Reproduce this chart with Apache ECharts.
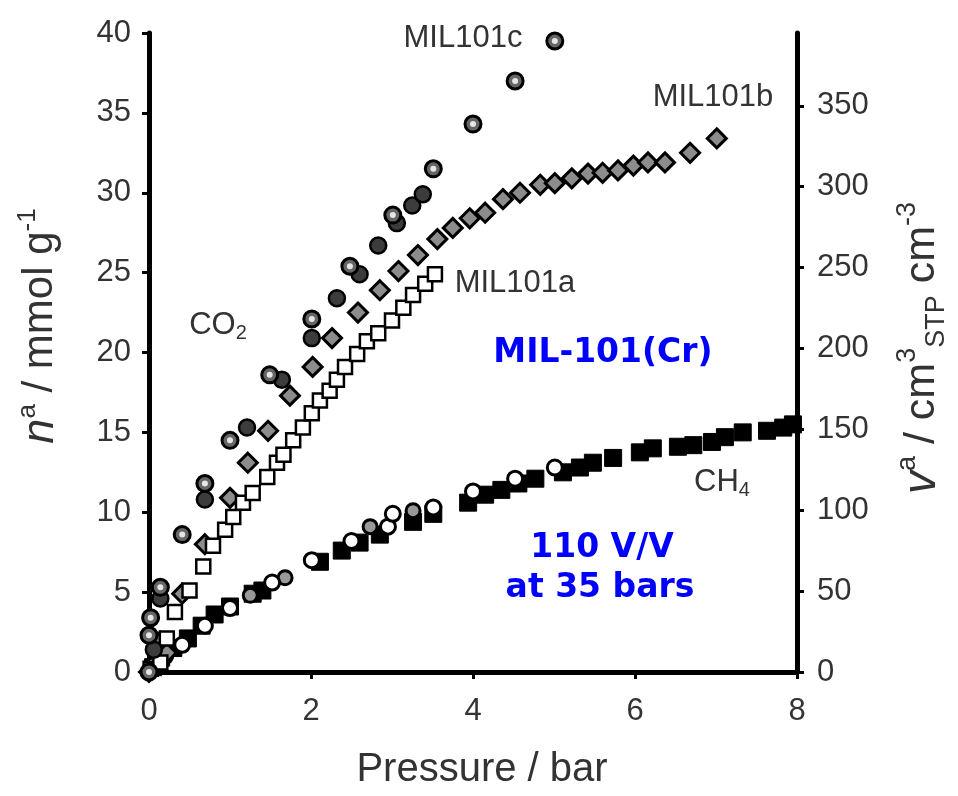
<!DOCTYPE html>
<html>
<head>
<meta charset="utf-8">
<title>MIL-101(Cr) CO2 / CH4 isotherms</title>
<script src="https://cdn.jsdelivr.net/npm/echarts@6/dist/echarts.min.js"></script>
<style>
  html, body { margin: 0; padding: 0; background: #fff; }
  #main { width: 958px; height: 796px; }
</style>
</head>
<body>
<div id="main"></div>
<script>
// axis ticks
var xTicks = [0, 2, 4, 6, 8];
var leftTicks = [0, 5, 10, 15, 20, 25, 30, 35, 40];
var rightTicks = [0, 50, 100, 150, 200, 250, 300, 350];

// CO2, MIL101c (ringed circles) [pressure bar, mmol/g]
var co2cRing = [[0, 0], [0.0, 2.3], [0.02, 3.4], [0.14, 5.3], [0.41, 8.6], [0.69, 11.8], [1.0, 14.5],
  [1.49, 18.6], [2.01, 22.1], [2.48, 25.4], [3.01, 28.6], [3.51, 31.5], [4.0, 34.3], [4.52, 37.0], [5.01, 39.5]];
// CO2, MIL101c (dark filled circles)
var co2cDark = [[0.06, 1.4], [0.14, 4.6], [0.69, 10.8], [1.21, 15.3], [1.64, 18.3], [2.01, 20.9], [2.32, 23.4],
  [2.6, 24.9], [2.83, 26.7], [3.06, 28.1], [3.25, 29.2], [3.38, 29.9]];
// CO2, MIL101b (grey diamonds)
var co2b = [[0, 0], [0.14, 1.9], [0.22, 1.2], [0.41, 4.9], [0.69, 8.0], [1.0, 10.9], [1.22, 13.1], [1.47, 15.1],
  [1.74, 17.3], [2.02, 19.1], [2.26, 20.9], [2.58, 22.5], [2.85, 23.9], [3.08, 25.1], [3.32, 26.1], [3.56, 27.1],
  [3.75, 27.8], [3.96, 28.4], [4.15, 28.75], [4.37, 29.6], [4.58, 30.0], [4.83, 30.5], [5.01, 30.6], [5.22, 30.9],
  [5.42, 31.2], [5.6, 31.25], [5.79, 31.4], [5.98, 31.7], [6.16, 31.9], [6.37, 31.9], [6.68, 32.5], [7.01, 33.4]];
// CO2, MIL101a (open squares)
var co2a = [[0.02, 0.2], [0.14, 0.6], [0.22, 2.1], [0.32, 3.75], [0.5, 5.1], [0.67, 6.6], [0.79, 7.9], [0.94, 8.9],
  [1.04, 9.7], [1.16, 10.6], [1.28, 11.2], [1.46, 12.2], [1.58, 13.1], [1.66, 13.6], [1.78, 14.5], [1.9, 15.3],
  [2.01, 16.2], [2.11, 17.0], [2.23, 17.6], [2.32, 18.3], [2.42, 19.1], [2.57, 19.9], [2.69, 20.7], [2.83, 21.2],
  [3.0, 22.0], [3.14, 22.8], [3.26, 23.6], [3.41, 24.3], [3.53, 24.9]];

// CH4, filled squares
var ch4Square = [[0.05, 0.3], [0.15, 0.9], [0.3, 1.5], [0.48, 2.1], [0.65, 2.9], [0.81, 3.6], [1.0, 4.1],
  [1.28, 4.9], [1.4, 5.1], [2.11, 6.9], [2.38, 7.6], [2.6, 8.1], [2.85, 8.6], [3.26, 9.4], [3.51, 9.9],
  [3.94, 10.6], [4.15, 11.1], [4.35, 11.4], [4.56, 11.8], [4.77, 12.1], [5.11, 12.5], [5.32, 12.8], [5.48, 13.1],
  [5.73, 13.4], [6.06, 13.75], [6.22, 14.0], [6.53, 14.1], [6.72, 14.2], [6.95, 14.4], [7.11, 14.7], [7.33, 15.0],
  [7.63, 15.1], [7.83, 15.3], [7.95, 15.5]];
// CH4, open circles
var ch4Open = [[0.05, 0.4], [0.2, 1.0], [0.41, 1.7], [0.69, 2.9], [1.0, 4.0], [1.52, 5.6], [2.01, 7.0],
  [2.5, 8.2], [2.95, 9.1], [3.01, 9.9], [3.51, 10.3], [4.0, 11.3], [4.52, 12.1], [5.01, 12.8]];
// CH4, grey circles
var ch4Grey = [[0.15, 0.8], [1.25, 4.8], [1.68, 5.9], [2.73, 9.1], [3.26, 10.1]];

var labelFont = "'Liberation Sans', Arial, sans-serif";
var titleFont = "'Liberation Sans', Arial, sans-serif";
var blueFont = "'DejaVu Sans', sans-serif";

var myChart = echarts.init(document.getElementById('main'));

var option = {
  animation: false,
  backgroundColor: '#fff',
  grid: { left: 149, right: 161, top: 33, bottom: 124 },
  xAxis: {
    type: 'value', min: 0, max: 8, interval: 2,
    splitLine: { show: false },
    axisLine: { lineStyle: { color: '#000', width: 5 } },
    axisTick: { show: true, length: 7, lineStyle: { color: '#000', width: 3 } },
    axisLabel: { margin: 24, fontSize: 31, color: '#333', fontFamily: labelFont }
  },
  yAxis: [{
    type: 'value', min: 0, max: 40, interval: 5,
    splitLine: { show: false },
    axisLine: { show: true, lineStyle: { color: '#000', width: 5 } },
    axisTick: { show: true, length: 7, lineStyle: { color: '#000', width: 3 } },
    axisLabel: { margin: 18, fontSize: 31, color: '#333', fontFamily: labelFont }
  }, {
    type: 'value', min: 0, max: 395, position: 'right',
    splitLine: { show: false },
    axisLine: { show: true, lineStyle: { color: '#000', width: 5 } },
    axisTick: { show: true, length: 7, customValues: rightTicks, lineStyle: { color: '#000', width: 3 } },
    axisLabel: { margin: 20, fontSize: 31, color: '#333', fontFamily: labelFont, customValues: rightTicks }
  }],
  series: [{
    name: 'CH4 squares', type: 'scatter', symbol: 'rect', symbolSize: 17,
    itemStyle: { color: '#000', borderColor: '#000', borderWidth: 1, opacity: 1 },
    data: ch4Square
  }, {
    name: 'CH4 grey', type: 'scatter', symbol: 'circle', symbolSize: 14,
    itemStyle: { color: '#999', borderColor: '#000', borderWidth: 3, opacity: 1 },
    data: ch4Grey
  }, {
    name: 'CH4 open', type: 'scatter', symbol: 'circle', symbolSize: 15,
    itemStyle: { color: '#fff', borderColor: '#000', borderWidth: 3, opacity: 1 },
    data: ch4Open
  }, {
    name: 'MIL101b', type: 'scatter', symbol: 'diamond', symbolSize: 19,
    itemStyle: { color: '#8c8c8c', borderColor: '#000', borderWidth: 3, opacity: 1 },
    data: co2b
  }, {
    name: 'MIL101a', type: 'scatter', symbol: 'rect', symbolSize: 14,
    itemStyle: { color: '#fff', borderColor: '#000', borderWidth: 2.5, opacity: 1 },
    data: co2a
  }, {
    name: 'MIL101c dark', type: 'scatter', symbol: 'circle', symbolSize: 16,
    itemStyle: { color: '#3c3c3c', borderColor: '#000', borderWidth: 2.5, opacity: 1 },
    data: co2cDark
  }, {
    name: 'MIL101c ring', type: 'scatter', symbol: 'circle', symbolSize: 16,
    itemStyle: { color: '#666', borderColor: '#000', borderWidth: 3, opacity: 1 },
    data: co2cRing
  }, {
    name: 'MIL101c ring centre', type: 'scatter', symbol: 'circle', symbolSize: 6,
    itemStyle: { color: '#e6e6e6', opacity: 1 },
    silent: true,
    data: co2cRing
  }],
  graphic: [
    { type: 'text', x: 482, y: 770, style: { text: 'Pressure / bar', font: '40px ' + titleFont, fill: '#333', align: 'center', verticalAlign: 'middle' } },
    { type: 'text', x: 40, y: 326, rotation: Math.PI / 2,
      style: {
        text: '{i|n}{s|a}{r| / mmol g}{s|-1}', align: 'center', verticalAlign: 'middle', fill: '#333',
        rich: {
          i: { fontSize: 45, fontStyle: 'italic', fontFamily: titleFont, fill: '#333', lineHeight: 50 },
          r: { fontSize: 42, fontFamily: titleFont, fill: '#333', lineHeight: 50 },
          s: { fontSize: 26, fontFamily: titleFont, fill: '#333', verticalAlign: 'top', lineHeight: 50 }
        }
      } },
    { type: 'text', x: 922, y: 348, rotation: Math.PI / 2,
      style: {
        text: '{i|v}{s|a}{r| / cm}{s|3}{b|STP}{r| cm}{s|-3}', align: 'center', verticalAlign: 'middle', fill: '#333',
        rich: {
          i: { fontSize: 46, fontStyle: 'italic', fontFamily: titleFont, fill: '#333', lineHeight: 56 },
          r: { fontSize: 43, fontFamily: titleFont, fill: '#333', lineHeight: 56 },
          s: { fontSize: 27, fontFamily: titleFont, fill: '#333', verticalAlign: 'top', lineHeight: 56 },
          b: { fontSize: 27, fontFamily: titleFont, fill: '#333', verticalAlign: 'bottom', lineHeight: 56 }
        }
      } },
    { type: 'text', x: 463, y: 38, style: { text: 'MIL101c', font: '31px ' + labelFont, fill: '#333', align: 'center', verticalAlign: 'middle' } },
    { type: 'text', x: 713, y: 97, style: { text: 'MIL101b', font: '31px ' + labelFont, fill: '#333', align: 'center', verticalAlign: 'middle' } },
    { type: 'text', x: 515, y: 283, style: { text: 'MIL101a', font: '31px ' + labelFont, fill: '#333', align: 'center', verticalAlign: 'middle' } },
    { type: 'text', x: 218, y: 325,
      style: {
        text: '{r|CO}{b|2}', align: 'center', verticalAlign: 'middle',
        rich: {
          r: { fontSize: 31, fontFamily: labelFont, fill: '#333', lineHeight: 36 },
          b: { fontSize: 20, fontFamily: labelFont, fill: '#333', verticalAlign: 'bottom', lineHeight: 36 }
        }
      } },
    { type: 'text', x: 722, y: 482,
      style: {
        text: '{r|CH}{b|4}', align: 'center', verticalAlign: 'middle',
        rich: {
          r: { fontSize: 31, fontFamily: labelFont, fill: '#333', lineHeight: 36 },
          b: { fontSize: 20, fontFamily: labelFont, fill: '#333', verticalAlign: 'bottom', lineHeight: 36 }
        }
      } },
    { type: 'text', x: 603, y: 353, style: { text: 'MIL-101(Cr)', font: 'bold 33px ' + blueFont, fill: '#0000ff', align: 'center', verticalAlign: 'middle' } },
    { type: 'text', x: 602, y: 548, style: { text: '110 V/V', font: 'bold 33px ' + blueFont, fill: '#0000ff', align: 'center', verticalAlign: 'middle' } },
    { type: 'text', x: 600, y: 588, style: { text: 'at 35 bars', font: 'bold 33px ' + blueFont, fill: '#0000ff', align: 'center', verticalAlign: 'middle' } }
  ]
};

myChart.setOption(option);
window.onresize = myChart.resize;
</script>
</body>
</html>
